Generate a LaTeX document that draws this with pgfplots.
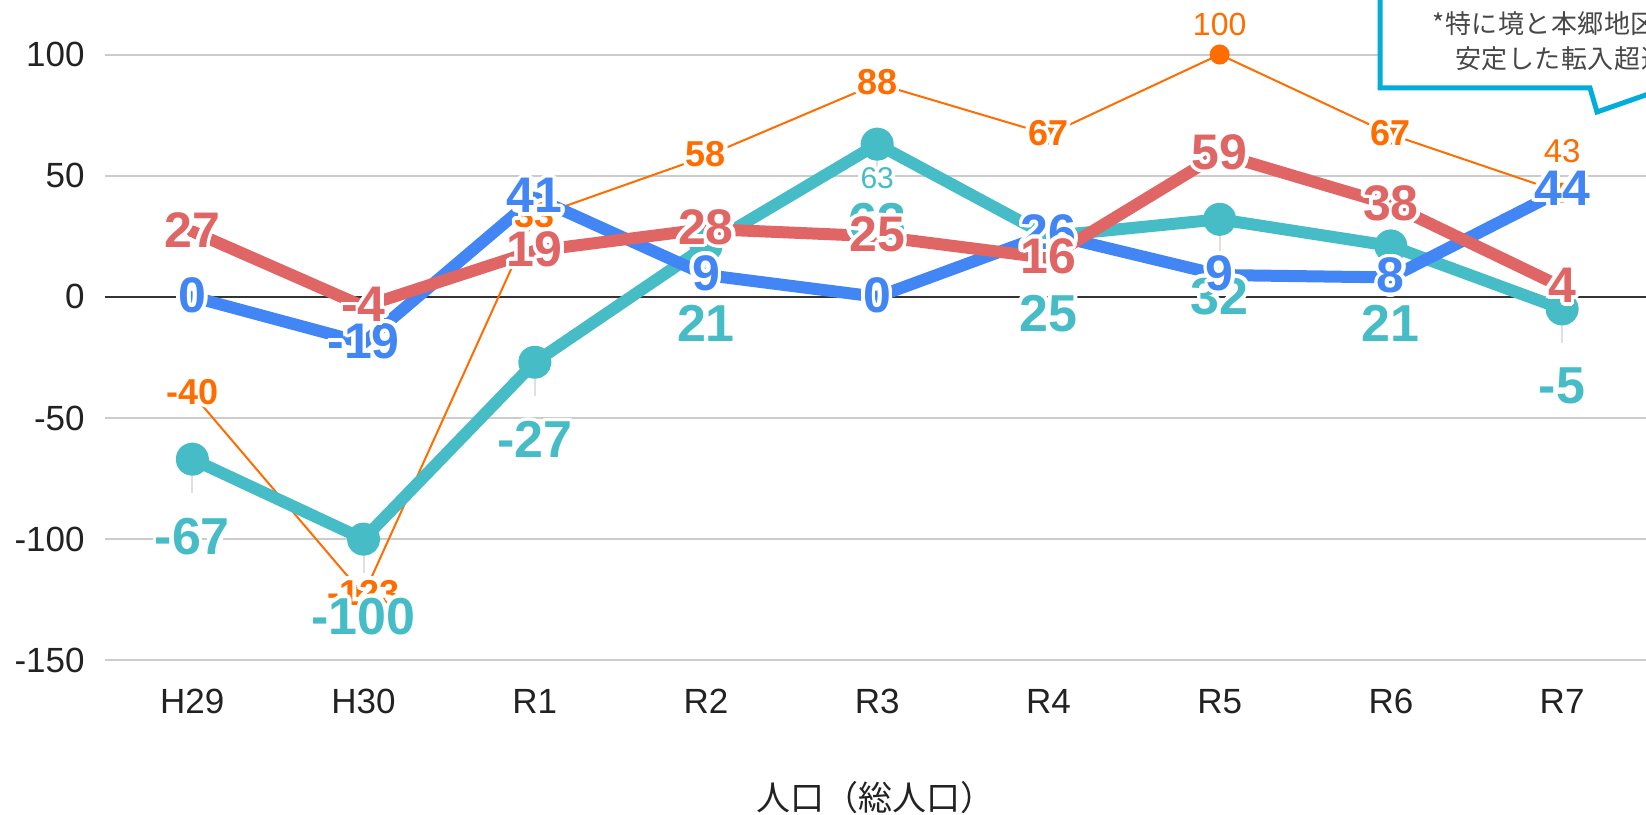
\documentclass[border=0pt]{standalone}
\usepackage{pgfplots}
\pgfplotsset{compat=1.18}
\usepackage{fontspec}
\setmainfont{Liberation Sans}
\newfontfamily\cjk{Noto Sans CJK JP}
\newfontfamily\cjkbox[LetterSpace=2]{Noto Sans CJK JP}
\usepackage[copies]{contour}
\contourlength{1.8bp}
\contournumber{24}

\definecolor{cblue}{HTML}{4285F4}
\definecolor{cred}{HTML}{E06666}
\definecolor{cteal}{HTML}{46BDC6}
\definecolor{corange}{HTML}{FF6D01}
\definecolor{cbox}{HTML}{00AED9}
\definecolor{ctick}{HTML}{222222}

\pgfplotsset{
  lbl/.style={only marks, mark=none, draw=none,
    point meta=explicit symbolic,
    nodes near coords={\contour{white}{\pgfplotspointmeta}},
    nodes near coords style={anchor=center, inner sep=0pt, #1}},
}

\begin{document}
\begin{tikzpicture}
\path[use as bounding box, clip] (0,0) rectangle (823bp,407.5bp);
\begin{axis}[
  at={(52.5bp,77.35bp)}, anchor=south west,
  scale only axis, width=770.5bp, height=330.15bp,
  xmin=-0.51, xmax=8.49, ymin=-150, ymax=122.5,
  clip=false,
  axis line style={draw=none},
  major tick length=0pt, tick style={draw=none},
  xtick={0,...,8},
  xticklabels={H29,H30,R1,R2,R3,R4,R5,R6,R7},
  ytick={-150,-100,-50,0,50,100},
  ymajorgrids, grid style={draw=black!20, line width=1bp},
  extra y ticks={0}, extra y tick labels={},
  extra y tick style={grid style={draw=black!80, line width=1bp}},
  /pgf/number format/assume math mode=true,
  yticklabel style={anchor=east, inner sep=0pt, xshift=-10bp,
    font=\fontsize{17.5bp}{20bp}\selectfont, text=ctick},
  xticklabel style={anchor=base, inner sep=0pt, yshift=-26.5bp,
    font=\fontsize{17.5bp}{20bp}\selectfont, text=ctick},
  xlabel={\cjk 人口（総人口）},
  x label style={at={(axis description cs:0.5,0)}, anchor=center,
    inner sep=0pt, yshift=-68.5bp, font=\fontsize{17bp}{19bp}\selectfont, text=ctick},
]

% orange series
\addplot[corange, line width=1bp, mark=*, mark size=4.5bp,
  mark options={fill=corange, draw=none}]
  coordinates {(0,-40) (1,-123) (2,33) (3,58) (4,88) (5,67) (6,100) (7,67) (8,43)};

% grey leader lines under the teal points
\addplot[draw=none, mark=none, forget plot,
  error bars/.cd, y dir=minus, y fixed=14, error mark=none,
  error bar style={draw=black!12, line width=1bp}]
  coordinates {(0,-67) (1,-100) (2,-27) (3,21) (4,63) (5,25) (6,32) (7,21) (8,-5)};

% teal series
\addplot[cteal, line width=6bp, line join=round, line cap=round, mark=*, mark size=5.3bp,
  mark options={fill=cteal, draw=none}]
  coordinates {(0,-67) (1,-100) (2,-27) (3,21) (4,63) (5,25) (6,32) (7,21) (8,-5)};

% blue series
\addplot[cblue, line width=6bp, line join=round, line cap=round, mark=none]
  coordinates {(0,0) (1,-19) (2,41) (3,9) (4,0) (5,26) (6,9) (7,8) (8,44)};

% red series
\addplot[cred, line width=6bp, line join=round, line cap=round, mark=none]
  coordinates {(0,27) (1,-4) (2,19) (3,28) (4,25) (5,16) (6,59) (7,38) (8,4)};

% labels
\addplot[lbl={font=\bfseries\fontsize{18bp}{18bp}\selectfont, text=corange}]
  coordinates {(0,-40) [-40] (1,-123) [-123] (2,33) [33] (3,58) [58] (4,88) [88] (5,67) [67] (7,67) [67]};
\addplot[lbl={font=\fontsize{16bp}{16bp}\selectfont, text=corange, yshift=14bp}]
  coordinates {(6,100) [100]};
\addplot[lbl={font=\fontsize{16.5bp}{16.5bp}\selectfont, text=corange, yshift=20bp}]
  coordinates {(8,43) [43]};
\addplot[lbl={font=\bfseries\fontsize{26bp}{26bp}\selectfont, text=cteal, yshift=-39.5bp}]
  coordinates {(0,-67) [-67] (1,-100) [-100] (2,-27) [-27] (3,21) [21] (4,63) [63]
               (5,25) [25] (6,32) [32] (7,21) [21] (8,-5) [-5]};
\addplot[lbl={font=\fontsize{15bp}{15bp}\selectfont, text=cteal, yshift=-18bp}]
  coordinates {(4,63) [63]};
\addplot[lbl={font=\bfseries\fontsize{25bp}{25bp}\selectfont, text=cblue}]
  coordinates {(0,0) [0] (1,-19) [-19] (2,41) [41] (3,9) [9] (4,0) [0]
               (5,26) [26] (6,9) [9] (7,8) [8] (8,44) [44]};
\addplot[lbl={font=\bfseries\fontsize{25bp}{25bp}\selectfont, text=cred}]
  coordinates {(0,27) [27] (1,-4) [-4] (2,19) [19] (3,28) [28] (4,25) [25]
               (5,16) [16] (6,59) [59] (7,38) [38] (8,4) [4]};
\end{axis}

% callout box, cut by the right and top edges
\draw[cbox, line width=2.5bp, fill=white, line join=miter]
  (690bp,430bp) -- (690bp,363.5bp) -- (795bp,363.5bp) -- (798.5bp,351.5bp)
  -- (840bp,366bp) -- (840bp,430bp);
\node[anchor=west, inner sep=0pt, text=black!72, font=\fontsize{13bp}{15bp}\selectfont]
  at (716bp,395.5bp) {\cjkbox *特に境と本郷地区で};
\node[anchor=west, inner sep=0pt, text=black!72, font=\fontsize{13bp}{15bp}\selectfont]
  at (727.5bp,378bp) {\cjkbox 安定した転入超過};
\end{tikzpicture}
\end{document}
